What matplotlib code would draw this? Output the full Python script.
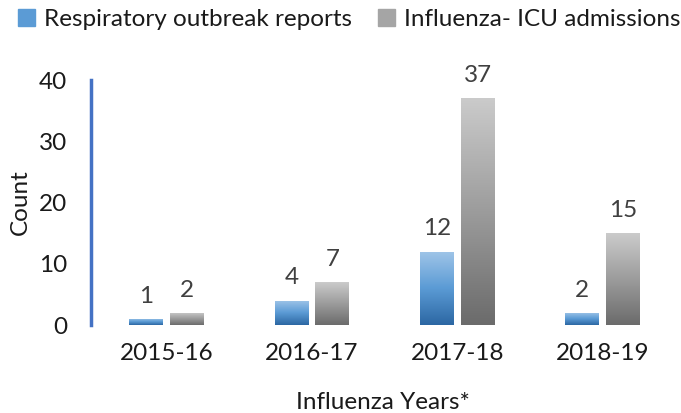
import matplotlib.pyplot as plt
import matplotlib.patches as mpatches
import numpy as np
from matplotlib.colors import LinearSegmentedColormap

plt.rcParams['font.family'] = ['Lato', 'DejaVu Sans']

years = ['2015-16', '2016-17', '2017-18', '2018-19']
outbreak_reports = [1, 4, 12, 2]
icu_admissions = [2, 7, 37, 15]
series_names = ['Respiratory outbreak reports', 'Influenza- ICU admissions']

blue_cmap = LinearSegmentedColormap.from_list('blue', ['#2c67a3', '#5b9bd5', '#a0c5e8'])
gray_cmap = LinearSegmentedColormap.from_list('gray', ['#6b6b6b', '#9c9c9c', '#cbcbcb'])

fig = plt.figure(figsize=(6.81, 4.13), dpi=100)
ax = fig.add_axes([0.1336, 0.213, 0.858, 0.593])

x = np.arange(len(years))
w = 0.233
gap = 0.048
grad = np.linspace(0, 1, 256).reshape(-1, 1)

def gradient_bars(pos, vals, cmap):
    bars = ax.bar(pos, vals, w, color='none', edgecolor='none')
    for b in bars:
        x0, h = b.get_x(), b.get_height()
        im = ax.imshow(grad, extent=[x0, x0 + b.get_width(), 0, h], origin='lower',
                       aspect='auto', cmap=cmap, zorder=2)
        im.set_clip_path(b)
    return bars

b1 = gradient_bars(x - (w + gap) / 2, outbreak_reports, blue_cmap)
b2 = gradient_bars(x + (w + gap) / 2, icu_admissions, gray_cmap)

fs = 17.5
for bars in (b1, b2):
    for b in bars:
        ax.text(b.get_x() + b.get_width() / 2, b.get_height() + 2.0, str(int(b.get_height())),
                ha='center', va='bottom', fontsize=fs, color='#404040')

ax.set_xlim(-0.52, 3.5)
ax.set_ylim(0, 40)
ax.set_yticks([0, 10, 20, 30, 40])
ax.set_xticks(x)
ax.set_xticklabels(years)
ax.tick_params(axis='both', length=0, labelsize=fs, colors='#1a1a1a')
ax.tick_params(axis='y', pad=17)
ax.tick_params(axis='x', pad=13)
for s in ['top', 'right', 'bottom']:
    ax.spines[s].set_visible(False)
ax.spines['left'].set_color('#4472c4')
ax.spines['left'].set_linewidth(2.5)

ax.set_ylabel('Count', fontsize=fs, color='#1a1a1a', labelpad=6)
ax.set_xlabel('Influenza Years*', fontsize=fs, color='#1a1a1a', labelpad=20)

handles = [mpatches.Patch(color='#5b9bd5'), mpatches.Patch(color='#a5a5a5')]
fig.legend(handles, series_names, loc='upper center', bbox_to_anchor=(0.513, 1.03), ncol=2,
           frameon=False, fontsize=fs, handlelength=0.7, handleheight=0.7,
           handletextpad=0.35, columnspacing=1.1, labelcolor='#1a1a1a')

fig.savefig('out.png', dpi=100)
